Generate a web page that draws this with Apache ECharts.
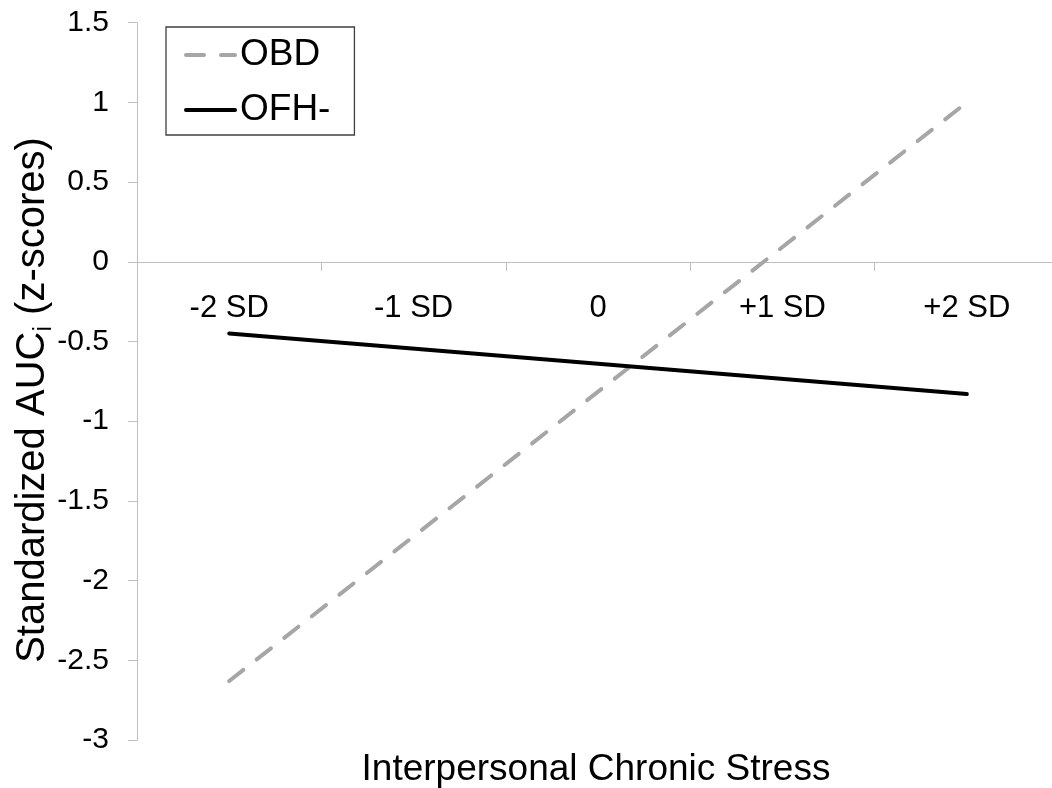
<!DOCTYPE html>
<html>
<head>
<meta charset="utf-8">
<script src="https://cdn.jsdelivr.net/npm/echarts@6/dist/echarts.min.js"></script>
<style>
  html, body { margin: 0; padding: 0; background: #fff; overflow: hidden; }
  /* a bit wider than the window: the plot area runs past the right edge, as in the original */
  #main { width: 1060px; height: 788px; }
</style>
</head>
<body>
<div id="main"></div>
<script>
// data (only the end points of each line are drawn)
var categories = ['-2 SD', '-1 SD', '0', '+1 SD', '+2 SD'];
var obdValues = [-2.63, null, null, null, 1.0];
var ofhValues = [-0.45, null, null, null, -0.83];
var yMin = -3, yMax = 1.5, yStep = 0.5;

var font = "'Liberation Sans', Arial, sans-serif";
var axisGray = '#bfbfbf';
var gridTop = 22.7, gridBottom = 48;
// x axis sits on y = 0: shift it up from the grid bottom by the zero position
var plotH = 788 - gridTop - gridBottom;
var zeroShift = plotH * (0 - yMin) / (yMax - yMin);

var myChart = echarts.init(document.getElementById('main'));

var option = {
    backgroundColor: '#fff',
    animation: false,
    textStyle: { fontFamily: font },
    grid: { left: 137, width: 922, top: gridTop, bottom: gridBottom },
    legend: {
        orient: 'vertical',
        left: 166,
        top: 27,
        padding: [6, 24, 3, 18],
        itemGap: 11,
        itemWidth: 49,
        itemHeight: 14,
        borderColor: '#404040',
        borderWidth: 1.3,
        itemStyle: { opacity: 0 },
        lineStyle: { width: 4 },
        textStyle: { fontSize: 37, color: '#000', lineHeight: 44, fontFamily: font },
        data: ['OBD', 'OFH-']
    },
    xAxis: {
        type: 'category',
        data: categories,
        boundaryGap: true,
        offset: -zeroShift,
        axisLine: { onZero: false, lineStyle: { color: axisGray, width: 1 } },
        axisTick: { show: true, length: 9, interval: 0, lineStyle: { color: axisGray } },
        axisLabel: { interval: 0, fontSize: 31, color: '#000', margin: 31, fontFamily: font },
        splitLine: { show: false }
    },
    yAxis: {
        type: 'value',
        min: yMin,
        max: yMax,
        interval: yStep,
        axisLine: { show: true, lineStyle: { color: axisGray, width: 1 } },
        axisTick: { show: true, length: 9, lineStyle: { color: axisGray } },
        axisLabel: { fontSize: 30, color: '#000', margin: 28, fontFamily: font },
        splitLine: { show: false }
    },
    graphic: [
        {
            type: 'text',
            x: 33,
            y: 400,
            rotation: Math.PI / 2,
            style: {
                text: '{a|Standardized AUC}{s|i}{a| (z-scores)}',
                align: 'center',
                verticalAlign: 'middle',
                fill: '#000',
                rich: {
                    a: { fontSize: 40, fontFamily: font, fill: '#000', lineHeight: 48 },
                    s: { fontSize: 25, fontFamily: font, fill: '#000', verticalAlign: 'bottom', lineHeight: 48 }
                }
            }
        },
        {
            type: 'text',
            x: 596,
            y: 770,
            style: {
                text: 'Interpersonal Chronic Stress',
                align: 'center',
                verticalAlign: 'middle',
                fontSize: 37,
                fontFamily: font,
                fill: '#000'
            }
        }
    ],
    series: [
        {
            name: 'OBD',
            type: 'line',
            data: obdValues,
            connectNulls: true,
            symbol: 'none',
            itemStyle: { color: '#a6a6a6' },
            lineStyle: { color: '#a6a6a6', width: 4, type: [18, 17], cap: 'round' }
        },
        {
            name: 'OFH-',
            type: 'line',
            data: ofhValues,
            connectNulls: true,
            symbol: 'none',
            itemStyle: { color: '#000' },
            lineStyle: { color: '#000', width: 4, cap: 'round' }
        }
    ]
};

myChart.setOption(option);
</script>
</body>
</html>
